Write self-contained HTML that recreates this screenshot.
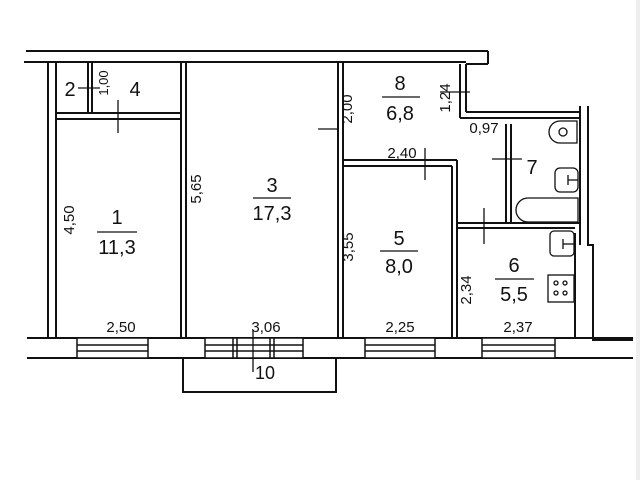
<!DOCTYPE html>
<html><head><style>
html,body{margin:0;padding:0;background:#fff;}
svg{display:block;}
text{font-family:"Liberation Sans",sans-serif;fill:#111;}
</style></head><body>
<svg width="640" height="480" viewBox="0 0 640 480" xmlns="http://www.w3.org/2000/svg">
<rect x="636" y="0" width="4" height="480" fill="#eee"/>
<g stroke="#111" stroke-width="2" fill="none">
<line x1="26" y1="51" x2="488" y2="51"/>
<line x1="24" y1="62" x2="466" y2="62"/>
<line x1="488" y1="51" x2="488" y2="64"/>
<line x1="466" y1="64" x2="488" y2="64"/>
<line x1="460" y1="64" x2="460" y2="118"/>
<line x1="466" y1="64" x2="466" y2="112"/>
<line x1="466" y1="112" x2="580" y2="112"/>
<line x1="460" y1="118" x2="580" y2="118"/>
<line x1="580" y1="106" x2="580" y2="245"/>
<line x1="575" y1="233" x2="575" y2="339"/>
<polyline points="588,106 588,245 593,245 593,340 633,340"/>
<line x1="48" y1="62" x2="48" y2="338"/>
<line x1="56" y1="62" x2="56" y2="338"/>
<line x1="88" y1="62" x2="88" y2="113"/>
<line x1="92" y1="62" x2="92" y2="113"/>
<line x1="57" y1="113" x2="181" y2="113"/>
<line x1="57" y1="119" x2="181" y2="119"/>
<line x1="181" y1="62" x2="181" y2="338"/>
<line x1="186" y1="62" x2="186" y2="338"/>
<line x1="338" y1="62" x2="338" y2="338"/>
<line x1="343" y1="62" x2="343" y2="338"/>
<line x1="343" y1="160" x2="457" y2="160"/>
<line x1="343" y1="166" x2="452" y2="166"/>
<line x1="452" y1="166" x2="452" y2="338"/>
<line x1="457" y1="160" x2="457" y2="338"/>
<line x1="506" y1="124" x2="506" y2="223"/>
<line x1="511" y1="124" x2="511" y2="223"/>
<line x1="457" y1="223" x2="580" y2="223"/>
<line x1="457" y1="228" x2="575" y2="228"/>
<line x1="27" y1="338" x2="633" y2="338"/>
<line x1="27" y1="358" x2="633" y2="358"/>
<polyline points="183,358 183,392 336,392 336,358"/>
</g>
<g stroke="#111" stroke-width="1.5" fill="#fff">
<rect x="77" y="338" width="71" height="20"/>
<rect x="205" y="338" width="98" height="20"/>
<rect x="365" y="338" width="70" height="20"/>
<rect x="482" y="338" width="73" height="20"/>
<line x1="77" y1="345" x2="148" y2="345"/><line x1="77" y1="351" x2="148" y2="351"/>
<line x1="205" y1="345" x2="303" y2="345"/><line x1="205" y1="351" x2="303" y2="351"/>
<line x1="233" y1="338" x2="233" y2="358"/><line x1="237" y1="338" x2="237" y2="358"/>
<line x1="270" y1="338" x2="270" y2="358"/><line x1="274" y1="338" x2="274" y2="358"/>
<line x1="365" y1="345" x2="435" y2="345"/><line x1="365" y1="351" x2="435" y2="351"/>
<line x1="482" y1="345" x2="555" y2="345"/><line x1="482" y1="351" x2="555" y2="351"/>
</g>
<g stroke="#111" stroke-width="1.3" fill="none">
<line x1="118" y1="100" x2="118" y2="133"/>
<line x1="318" y1="129" x2="338" y2="129"/>
<line x1="425" y1="148" x2="425" y2="180"/>
<line x1="492" y1="159" x2="522" y2="159"/>
<line x1="484" y1="208" x2="484" y2="244"/>
<line x1="440" y1="92" x2="470" y2="92"/>
<line x1="78" y1="88" x2="100" y2="88"/>
<line x1="253" y1="330" x2="253" y2="372"/>
<path d="M577,140 L560,140 A11,11 0 0 1 560,118 L577,118 Z" transform="translate(0,3)"/>
<circle cx="563" cy="132" r="4"/>
<rect x="555" y="168" width="23" height="24" rx="5"/>
<line x1="568" y1="180" x2="578" y2="180"/><line x1="568" y1="175" x2="568" y2="185"/>
<path d="M578,198 L528,198 A12,12 0 0 0 528,222 L578,222 Z"/>
<rect x="550" y="231" width="24" height="25" rx="4"/>
<line x1="563" y1="244" x2="574" y2="244"/><line x1="563" y1="239" x2="563" y2="249"/>
<rect x="548" y="275" width="26" height="27"/>
<circle cx="556" cy="283" r="2"/><circle cx="565" cy="283" r="2"/>
<circle cx="556" cy="293" r="2"/><circle cx="565" cy="293" r="2"/>
<line x1="97" y1="232" x2="137" y2="232"/>
<line x1="253" y1="198" x2="291" y2="198"/>
<line x1="382" y1="97" x2="420" y2="97"/>
<line x1="380" y1="251" x2="418" y2="251"/>
<line x1="495" y1="279" x2="534" y2="279"/>
</g>
<g font-size="20" text-anchor="middle">
<text x="117" y="224">1</text><text x="117" y="254">11,3</text>
<text x="272" y="192">3</text><text x="272" y="220">17,3</text>
<text x="400" y="90">8</text><text x="400" y="120">6,8</text>
<text x="399" y="245">5</text><text x="399" y="273">8,0</text>
<text x="514" y="272">6</text><text x="514" y="301">5,5</text>
<text x="532" y="174">7</text>
<text x="70" y="96">2</text><text x="135" y="96">4</text>
</g>
<g font-size="15" text-anchor="middle">
<text x="121" y="332">2,50</text>
<text x="266" y="332">3,06</text>
<text x="400" y="332">2,25</text>
<text x="518" y="332">2,37</text>
<text x="265" y="379" font-size="18">10</text>
<text x="402" y="158">2,40</text>
<text x="484" y="133">0,97</text>
<text transform="translate(74,220) rotate(-90)">4,50</text>
<text transform="translate(201,189) rotate(-90)">5,65</text>
<text transform="translate(352,109) rotate(-90)">2,00</text>
<text transform="translate(353,247) rotate(-90)">3,55</text>
<text transform="translate(471,290) rotate(-90)">2,34</text>
<text transform="translate(450,98) rotate(-90)">1,24</text>
<text transform="translate(108,83) rotate(-90)" font-size="13">1,00</text>
</g>
</svg>
</body></html>
